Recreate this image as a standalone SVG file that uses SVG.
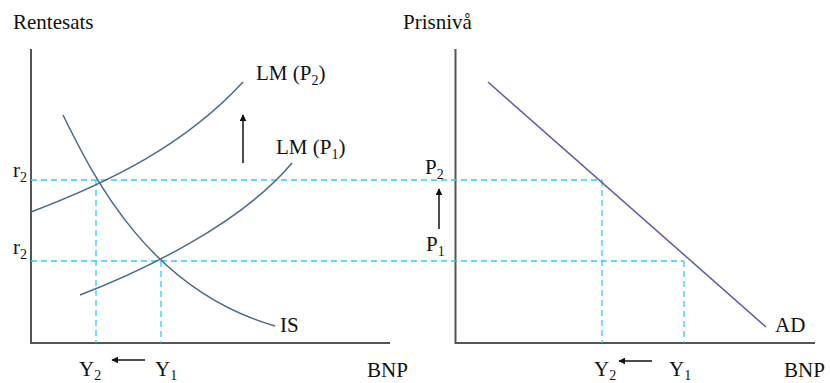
<svg xmlns="http://www.w3.org/2000/svg" width="830" height="383" viewBox="0 0 830 383">
<defs>
<style>
text{font-family:"Liberation Serif","Times New Roman",serif;font-size:21px;fill:#111}
.sub{font-size:14px}
.axis{stroke:#555;stroke-width:2;fill:none}
.curve{stroke:#4b6a88;stroke-width:1.5;fill:none}
.ad{stroke:#5a5aa8;stroke-width:1.5;fill:none}
.dash{stroke:#33ccf5;stroke-width:1.3;stroke-dasharray:6 4;fill:none}
.arr{stroke:#111;stroke-width:1.5;fill:none;marker-end:url(#ah)}
</style>
<marker id="ah" viewBox="0 0 10 10" refX="9" refY="5" markerWidth="7" markerHeight="7" orient="auto" markerUnits="userSpaceOnUse">
<path d="M0,0 L10,5 L0,10 z" fill="#111"/>
</marker>
</defs>
<g id="left-axes">
<path class="axis" d="M31,49 V343 H390"/>
<text x="13" y="29">Rentesats</text>
<text x="367" y="377">BNP</text>
</g>
<g id="right-axes">
<path class="axis" d="M455.5,49 V343 H815"/>
<text x="403" y="29">Prisnivå</text>
<text x="784" y="377">BNP</text>
</g>
<g id="connectors">
<path class="dash" d="M31,180 H602 M31,261 H684 M96,180 V343 M161,261 V343 M602,180 V343 M684,261 V343"/>
<path class="arr" d="M243,163 V115"/>
<path class="arr" d="M145,360 H112"/>
<path class="arr" d="M439,229 V189"/>
<path class="arr" d="M652,361 H619"/>
</g>
<g id="LM2">
<path class="curve" d="M31,212 C110,182 185,145 243,82"/>
<text x="256" y="80">LM (P<tspan class="sub" dy="5">2</tspan><tspan dy="-5">)</tspan></text>
</g>
<g id="LM1">
<path class="curve" d="M80,295 C140,272 240,225 292,163"/>
<text x="276" y="154">LM (P<tspan class="sub" dy="5">1</tspan><tspan dy="-5">)</tspan></text>
</g>
<g id="IS">
<path class="curve" d="M63,115 C95,180 150,290 275,326"/>
<text x="280" y="332">IS</text>
</g>
<g id="AD">
<path class="ad" d="M488,82 L766,327"/>
<text x="775" y="332">AD</text>
</g>
<g id="labels">
<text x="13" y="177">r<tspan class="sub" dy="5">2</tspan></text>
<text x="13" y="254">r<tspan class="sub" dy="5">2</tspan></text>
<text x="79" y="376">Y<tspan class="sub" dy="4">2</tspan></text>
<text x="155" y="376">Y<tspan class="sub" dy="4">1</tspan></text>
<text x="425" y="174">P<tspan class="sub" dy="5">2</tspan></text>
<text x="426" y="251">P<tspan class="sub" dy="5">1</tspan></text>
<text x="594" y="376">Y<tspan class="sub" dy="4">2</tspan></text>
<text x="669" y="376">Y<tspan class="sub" dy="4">1</tspan></text>
</g>
</svg>
